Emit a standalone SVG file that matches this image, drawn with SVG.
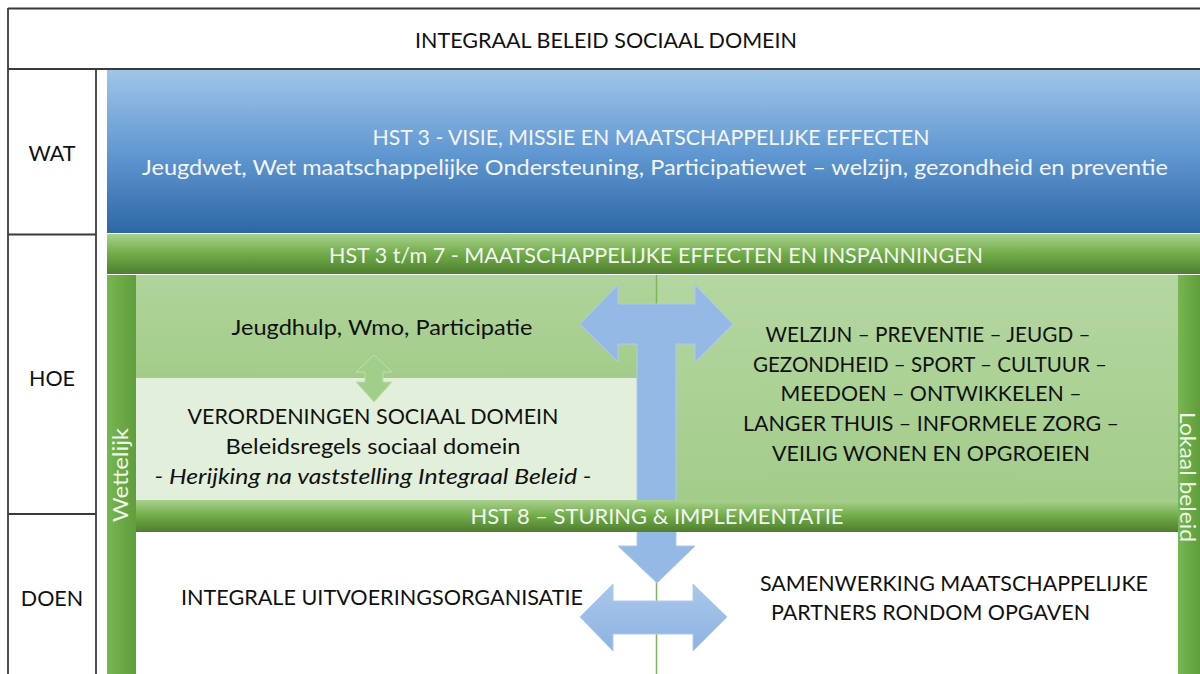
<svg xmlns="http://www.w3.org/2000/svg" width="1200" height="674" viewBox="0 0 1200 674">
<defs>
<linearGradient id="gBlue" x1="0" y1="0" x2="0" y2="1"><stop offset="0" stop-color="#a0c5e8"/><stop offset="0.5" stop-color="#6199d2"/><stop offset="1" stop-color="#2d67a5"/></linearGradient>
<linearGradient id="gBar" x1="0" y1="0" x2="0" y2="1"><stop offset="0" stop-color="#a9d18e"/><stop offset="0.5" stop-color="#70ac47"/><stop offset="1" stop-color="#4f7e30"/></linearGradient>
<linearGradient id="gSide" x1="0" y1="0" x2="1" y2="0"><stop offset="0" stop-color="#78b553"/><stop offset="1" stop-color="#5f9e3d"/></linearGradient>
<linearGradient id="gArea" x1="0" y1="0" x2="0" y2="1"><stop offset="0" stop-color="#b4d7a1"/><stop offset="1" stop-color="#a3cc8a"/></linearGradient>
<linearGradient id="gUp" x1="0" y1="0" x2="0" y2="1"><stop offset="0" stop-color="#b0d49b"/><stop offset="1" stop-color="#a3cc89"/></linearGradient>
<linearGradient id="gArrow" x1="0" y1="0" x2="0" y2="1"><stop offset="0" stop-color="#a9c7ea"/><stop offset="1" stop-color="#8db3e2"/></linearGradient>
</defs>
<style>
.frame{stroke:#3a3a3a;stroke-width:1.8;fill:none}
.t{font-family:Lato,"Liberation Sans",sans-serif;font-size:21.5px;fill:#111;text-anchor:middle}
.w{fill:#f4f4f4}
.side{font-family:Lato,"Liberation Sans",sans-serif;font-size:22px;fill:#eef6e8;text-anchor:middle}
.barrow{fill:#93b9e4;stroke:#aecbeb;stroke-width:1}
</style>

<!-- frame -->
<g id="frame">
<line class="frame" x1="8" y1="8.5" x2="1200" y2="8.5"/>
<line class="frame" x1="8" y1="69" x2="1200" y2="69"/>
<line class="frame" x1="8" y1="8" x2="8" y2="674"/>
<line class="frame" x1="96" y1="69" x2="96" y2="674"/>
<line class="frame" x1="8" y1="234.5" x2="96" y2="234.5"/>
<line class="frame" x1="8" y1="514" x2="96" y2="514"/>
</g>

<g id="title"><text class="t" x="606" y="48" textLength="382" lengthAdjust="spacingAndGlyphs">INTEGRAAL BELEID SOCIAAL DOMEIN</text></g>
<g id="wat"><text class="t" x="52" y="161">WAT</text></g>
<g id="hoe"><text class="t" x="52" y="386">HOE</text></g>
<g id="doen"><text class="t" x="52" y="606">DOEN</text></g>

<!-- blue WAT box -->
<g id="visie">
<rect x="107" y="70" width="1093" height="163" fill="url(#gBlue)"/>
<text class="t w" x="651" y="145" textLength="557" lengthAdjust="spacingAndGlyphs">HST 3 - VISIE, MISSIE EN MAATSCHAPPELIJKE EFFECTEN</text>
<text class="t w" x="655" y="175" textLength="1026" lengthAdjust="spacingAndGlyphs">Jeugdwet, Wet maatschappelijke Ondersteuning, Participatiewet – welzijn, gezondheid en preventie</text>
</g>

<!-- light green area -->
<g id="area">
<rect x="136" y="275" width="1042" height="226" fill="url(#gArea)"/>
</g>

<g id="jeugdhulp">
<rect x="136" y="275" width="520" height="103" fill="url(#gUp)"/>
<text class="t" x="382" y="335" textLength="301" lengthAdjust="spacingAndGlyphs">Jeugdhulp, Wmo, Participatie</text>
</g>

<g id="verordeningen">
<rect x="136" y="378" width="502" height="123" fill="#e2efda"/>
<text class="t" x="373" y="424" textLength="371" lengthAdjust="spacingAndGlyphs">VERORDENINGEN SOCIAAL DOMEIN</text>
<text class="t" x="373" y="454" textLength="295" lengthAdjust="spacingAndGlyphs">Beleidsregels sociaal domein</text>
<text class="t" x="373" y="484" font-style="italic" textLength="437" lengthAdjust="spacingAndGlyphs">- Herijking na vaststelling Integraal Beleid -</text>
</g>

<g id="lokaal-thema">
<text class="t" x="928" y="342" textLength="325" lengthAdjust="spacingAndGlyphs">WELZIJN – PREVENTIE – JEUGD –</text>
<text class="t" x="930" y="372" textLength="354" lengthAdjust="spacingAndGlyphs">GEZONDHEID – SPORT – CULTUUR –</text>
<text class="t" x="931" y="401" textLength="301" lengthAdjust="spacingAndGlyphs">MEEDOEN – ONTWIKKELEN –</text>
<text class="t" x="931" y="431" textLength="376" lengthAdjust="spacingAndGlyphs">LANGER THUIS – INFORMELE ZORG –</text>
<text class="t" x="931" y="461" textLength="318" lengthAdjust="spacingAndGlyphs">VEILIG WONEN EN OPGROEIEN</text>
</g>

<g id="uitvoering">
<text class="t" x="382" y="605" textLength="402" lengthAdjust="spacingAndGlyphs">INTEGRALE UITVOERINGSORGANISATIE</text>
</g>
<g id="samenwerking">
<text class="t" x="954" y="591" textLength="388" lengthAdjust="spacingAndGlyphs">SAMENWERKING MAATSCHAPPELIJKE</text>
<text class="t" x="930.5" y="620" textLength="319" lengthAdjust="spacingAndGlyphs">PARTNERS RONDOM OPGAVEN</text>
</g>

<!-- connectors -->
<g id="connectors">
<line x1="656.5" y1="275" x2="656.5" y2="674" stroke="#7cb55a" stroke-width="1.5"/>
<polygon class="barrow" points="580,324 618,285 618,304 695,304 695,285 733,324 695,362 695,344 676,344 676,546 695,546 657,583 618,546 637,546 637,344 618,344 618,362"/>
<polygon fill="url(#gArrow)" stroke="#aecbeb" stroke-width="1" points="580,617 613,584 613,601 693,601 693,584 727,617 693,651 693,634 613,634 613,651"/>
<polygon fill="#9fcf88" stroke="#bfe0ae" stroke-width="1" points="374,355 392,372 383,372 383,382 392,382 374,402 356,382 365,382 365,372 356,372"/>
</g>

<!-- bars -->
<g id="hst37">
<rect x="107" y="234" width="1093" height="40" fill="url(#gBar)"/>
<text class="t w" x="656" y="263" textLength="654" lengthAdjust="spacingAndGlyphs">HST 3 t/m 7 - MAATSCHAPPELIJKE EFFECTEN EN INSPANNINGEN</text>
</g>
<g id="hst8">
<rect x="136" y="500" width="1042" height="32" fill="url(#gBar)"/>
<text class="t w" x="657" y="524" textLength="373" lengthAdjust="spacingAndGlyphs">HST 8 – STURING &amp; IMPLEMENTATIE</text>
</g>
<g id="wettelijk">
<rect x="107" y="275" width="29" height="399" fill="url(#gSide)"/>
<text class="side" transform="translate(128,475) rotate(-90)" textLength="94" lengthAdjust="spacingAndGlyphs">Wettelijk</text>
</g>
<g id="lokaal">
<rect x="1178" y="275" width="22" height="399" fill="url(#gSide)"/>
<text class="side" font-size="17" transform="translate(1180,477) rotate(90)" textLength="130" lengthAdjust="spacingAndGlyphs">Lokaal beleid</text>
</g>
</svg>
